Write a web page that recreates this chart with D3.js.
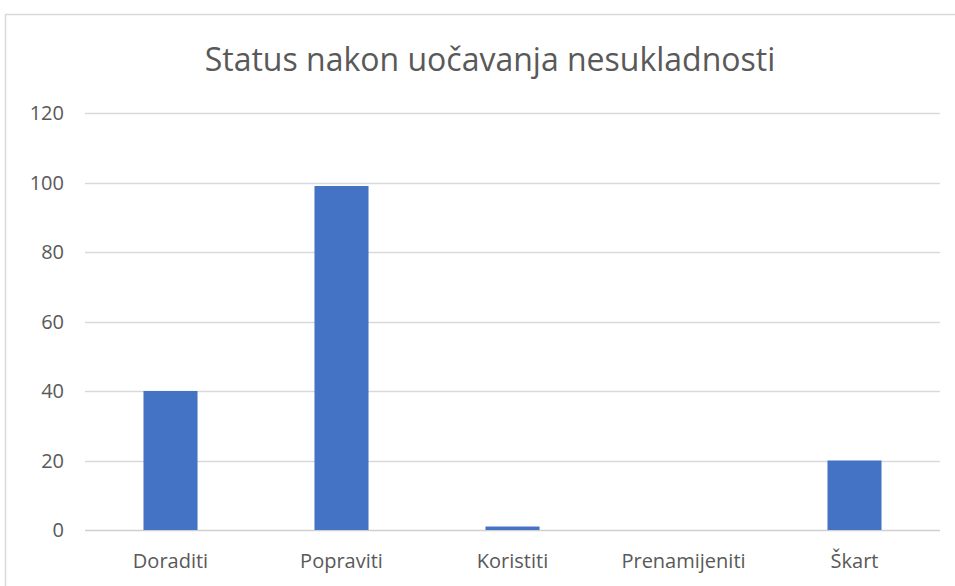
<html>
<head>
<meta charset="utf-8">
<script src="https://d3js.org/d3.v7.min.js"></script>
<style>
  body { margin: 0; background: #fff; }
  svg { display: block; font-family: "Open Sans", "DejaVu Sans", sans-serif; }
</style>
</head>
<body>
<svg></svg>
<script>
// chart data
var categories = ["Doraditi", "Popraviti", "Koristiti", "Prenamijeniti", "Škart"];
var values = [40, 99, 1, 0, 20];
var yTicks = [0, 20, 40, 60, 80, 100, 120];
var title = "Status nakon uočavanja nesukladnosti";

var width = 955, height = 586;
var svg = d3.select("svg").attr("width", width).attr("height", height);

// outer chart frame (cropped on right and bottom)
svg.append("rect")
  .attr("x", 5.5).attr("y", 14.5)
  .attr("width", 960).attr("height", 600)
  .attr("fill", "#fff")
  .attr("stroke", "#d9d9d9")
  .attr("stroke-width", 1.5);

var margin = {left: 85, right: 15, top: 113, bottom: 56};
var plotW = width - margin.left - margin.right;
var plotH = height - margin.top - margin.bottom;

var x = d3.scaleBand().domain(categories).range([margin.left, margin.left + plotW]).paddingInner(0.684).paddingOuter(0.342);
var y = d3.scaleLinear().domain([0, 120]).range([margin.top + plotH, margin.top]);

// gridlines
svg.append("g").selectAll("line")
  .data(yTicks)
  .join("line")
  .attr("x1", margin.left).attr("x2", margin.left + plotW)
  .attr("y1", function(d) { return Math.round(y(d)) + 0.5; })
  .attr("y2", function(d) { return Math.round(y(d)) + 0.5; })
  .attr("stroke", function(d) { return d === 0 ? "#d0d0d0" : "#d9d9d9"; })
  .attr("stroke-width", 1.5);

// y tick labels
svg.append("g").selectAll("text")
  .data(yTicks)
  .join("text")
  .attr("x", 64)
  .attr("y", function(d) { return y(d); })
  .attr("dy", "0.35em")
  .attr("text-anchor", "end")
  .attr("fill", "#595959")
  .attr("font-size", 20)
  .text(function(d) { return d; });

// bars
svg.append("g").selectAll("rect")
  .data(values)
  .join("rect")
  .attr("x", function(d, i) { return x(categories[i]); })
  .attr("width", x.bandwidth())
  .attr("y", function(d) { return y(d); })
  .attr("height", function(d) { return y(0) - y(d); })
  .attr("fill", "#4472c4");

// category labels
svg.append("g").selectAll("text")
  .data(categories)
  .join("text")
  .attr("x", function(d) { return x(d) + x.bandwidth() / 2; })
  .attr("y", y(0) + 38)
  .attr("text-anchor", "middle")
  .attr("fill", "#595959")
  .attr("font-size", 20)
  .text(function(d) { return d; });

// title
svg.append("text")
  .attr("x", 490).attr("y", 71)
  .attr("text-anchor", "middle")
  .attr("fill", "#595959")
  .attr("font-size", 32)
  .text(title);
</script>
</body>
</html>
